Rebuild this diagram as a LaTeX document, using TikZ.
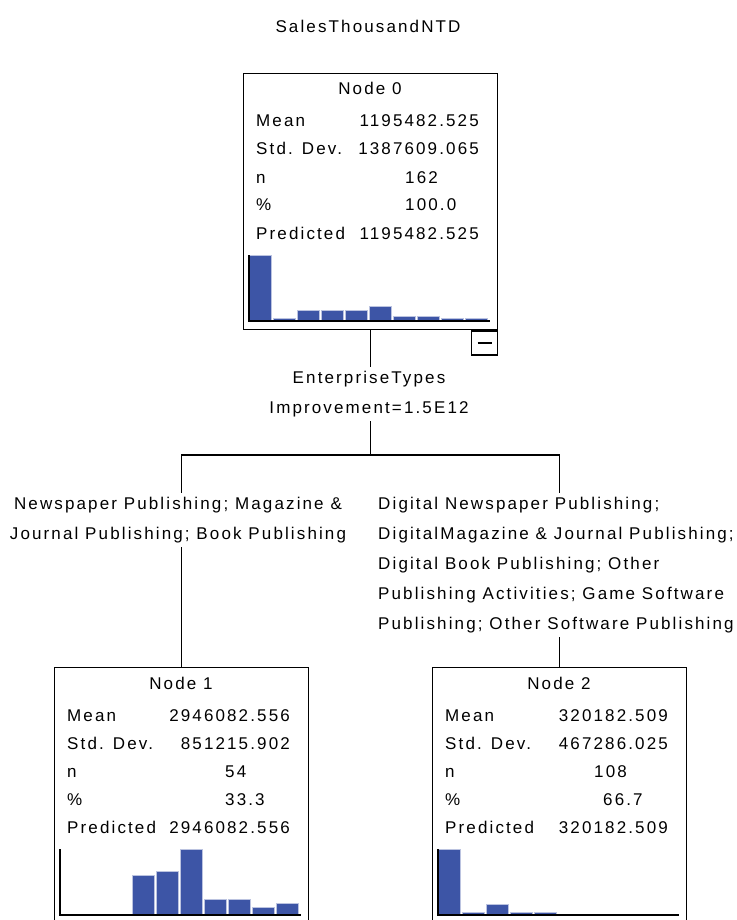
\documentclass[tikz,border=0pt]{standalone}
\usepackage{fontspec}
\setmainfont{Liberation Sans}[LetterSpace=12.5]
\usetikzlibrary{positioning}

\definecolor{barblue}{RGB}{61,85,166}
\newcommand{\treefont}{\fontsize{17}{30}\selectfont}

\tikzset{
  txt/.style={font=\treefont, inner sep=0pt},
  lbl/.style={txt, anchor=base west},
  val/.style={txt, anchor=base east},
  statbox/.style={draw, line width=1.3pt, minimum width=254pt, minimum height=256pt, anchor=north west, inner sep=0pt},
  bar/.style={fill=barblue, draw=barblue!35, line width=0.8pt},
  axis/.style={line width=1.4pt},
  tree/.style={line width=1.3pt},
}

\begin{document}
\begin{tikzpicture}[x=1pt, y=-1pt]
    \clip (0,0) rectangle (736,920);

    % Target variable.
    \node[txt, anchor=base] (target) at (368,33) {SalesThousandNTD};

    % Node 0.
    \node[statbox] (node0) at (243,73) {};
    \begin{scope}[shift={(node0.north west)}]
        \node[txt, anchor=base] (n0head) at (127,22) {Node 0};
        \node[lbl] (n0meanl) at (13,54)  {Mean};
        \node[val] (n0mean)  at (236,54) {1195482.525};
        \node[lbl] (n0sdl)   at (13,82)  {Std. Dev.};
        \node[val] (n0sd)    at (236,82) {1387609.065};
        \node[lbl] (n0nl)    at (13,110) {n};
        \node[lbl] (n0n)     at (162,110) {162};
        \node[lbl] (n0pctl)  at (13,138) {\%};
        \node[lbl] (n0pct)   at (162,138) {100.0};
        \node[lbl] (n0predl) at (13,166) {Predicted};
        \node[val] (n0pred)  at (236,166) {1195482.525};
        % Histogram.
        \draw[bar] (6,182)   rectangle (28,248);
        \draw[bar] (30,245)  rectangle (52,248);
        \draw[bar] (54,237)  rectangle (76,248);
        \draw[bar] (78,237)  rectangle (100,248);
        \draw[bar] (102,237) rectangle (124,248);
        \draw[bar] (126,233) rectangle (148,248);
        \draw[bar] (150,243) rectangle (172,248);
        \draw[bar] (174,243) rectangle (196,248);
        \draw[bar] (198,245) rectangle (220,248);
        \draw[bar] (222,245) rectangle (244,248);
        \draw[axis] (6,182) -- (6,248) -- (247,248);
    \end{scope}
    \node[draw, line width=1.3pt, minimum width=26pt, minimum height=24pt, inner sep=0pt, anchor=north east]
        (toggle) at (node0.south east) {\rule{14pt}{1.8pt}};

    % Split.
    \node[txt, inner ysep=4pt, align=center, anchor=north] (split) at (369,367)
        {EnterpriseTypes\\Improvement=1.5E12};
    \coordinate (fork) at (node0.south |- 0,455);

    % Categories.
    \node[txt, inner ysep=4pt, align=center, anchor=north] (catL) at (178,493)
        {Newspaper Publishing; Magazine \&\\Journal Publishing; Book Publishing};
    \node[txt, inner ysep=4pt, align=left, anchor=north west] (catR) at (378,493)
        {Digital Newspaper Publishing;\\DigitalMagazine \& Journal Publishing;\\Digital Book Publishing; Other\\Publishing Activities; Game Software\\Publishing; Other Software Publishing};

    % Node 1.
    \node[statbox, minimum height=262pt] (node1) at (54,667) {};
    \begin{scope}[shift={(node1.north west)}]
        \node[txt, anchor=base] (n1head) at (127,22) {Node 1};
        \node[lbl] (n1meanl) at (13,54)  {Mean};
        \node[val] (n1mean)  at (236,54) {2946082.556};
        \node[lbl] (n1sdl)   at (13,82)  {Std. Dev.};
        \node[val] (n1sd)    at (236,82) {851215.902};
        \node[lbl] (n1nl)    at (13,110) {n};
        \node[lbl] (n1n)     at (171,110) {54};
        \node[lbl] (n1pctl)  at (13,138) {\%};
        \node[lbl] (n1pct)   at (171,138) {33.3};
        \node[lbl] (n1predl) at (13,166) {Predicted};
        \node[val] (n1pred)  at (236,166) {2946082.556};
        % Histogram.
        \draw[bar] (78,208)  rectangle (100,248);
        \draw[bar] (102,204) rectangle (124,248);
        \draw[bar] (126,182) rectangle (148,248);
        \draw[bar] (150,232) rectangle (172,248);
        \draw[bar] (174,232) rectangle (196,248);
        \draw[bar] (198,240) rectangle (220,248);
        \draw[bar] (222,236) rectangle (244,248);
        \draw[axis] (6,182) -- (6,248) -- (247,248);
    \end{scope}

    % Node 2.
    \node[statbox, minimum height=262pt] (node2) at (432,667) {};
    \begin{scope}[shift={(node2.north west)}]
        \node[txt, anchor=base] (n2head) at (127,22) {Node 2};
        \node[lbl] (n2meanl) at (13,54)  {Mean};
        \node[val] (n2mean)  at (236,54) {320182.509};
        \node[lbl] (n2sdl)   at (13,82)  {Std. Dev.};
        \node[val] (n2sd)    at (236,82) {467286.025};
        \node[lbl] (n2nl)    at (13,110) {n};
        \node[lbl] (n2n)     at (162,110) {108};
        \node[lbl] (n2pctl)  at (13,138) {\%};
        \node[lbl] (n2pct)   at (171,138) {66.7};
        \node[lbl] (n2predl) at (13,166) {Predicted};
        \node[val] (n2pred)  at (236,166) {320182.509};
        % Histogram.
        \draw[bar] (6,182)   rectangle (28,248);
        \draw[bar] (30,245)  rectangle (52,248);
        \draw[bar] (54,237)  rectangle (76,248);
        \draw[bar] (78,245)  rectangle (100,248);
        \draw[bar] (102,245) rectangle (124,248);
        \draw[axis] (6,182) -- (6,248) -- (247,248);
    \end{scope}

    % Branches.
    \draw[tree] (node0.south) -- (node0.south |- split.north);
    \draw[tree] (fork |- split.south) -- (fork);
    \draw[tree] (fork) -| (catL.north -| node1.north);
    \draw[tree] (fork) -| (catR.north -| node2.north);
    \draw[tree] (catL.south -| node1.north) -- (node1.north);
    \draw[tree] (catR.south -| node2.north) -- (node2.north);

\end{tikzpicture}
\end{document}
